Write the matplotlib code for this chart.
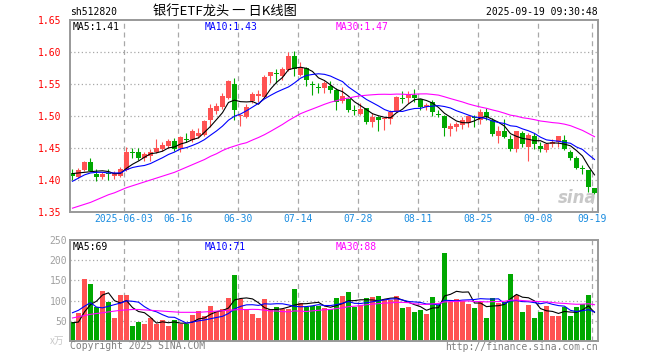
import numpy as np
import pandas as pd
import matplotlib
matplotlib.use('Agg')
import matplotlib.pyplot as plt
from matplotlib.patches import Rectangle

plt.rcParams['font.family'] = ['DejaVu Sans Mono', 'Noto Sans CJK SC']

symbol = "sh512820"
title = "银行ETF龙头 一 日K线图"
timestamp = "2025-09-19 09:30:48"

opens = [1.411, 1.405, 1.416, 1.428, 1.410, 1.404, 1.411, 1.406, 1.407, 1.416,
         1.443, 1.443, 1.435, 1.438, 1.444, 1.448, 1.453, 1.461, 1.450, 1.464,
         1.462, 1.468, 1.470, 1.494, 1.508, 1.514, 1.528, 1.550, 1.500, 1.499,
         1.523, 1.532, 1.529, 1.562, 1.567, 1.562, 1.572, 1.593, 1.564, 1.575,
         1.550, 1.545, 1.544, 1.547, 1.540, 1.523, 1.527, 1.509, 1.503, 1.512,
         1.490, 1.499, 1.495, 1.495, 1.507, 1.528, 1.528, 1.533, 1.526, 1.514,
         1.522, 1.502, 1.500, 1.479, 1.483, 1.486, 1.489, 1.499, 1.494, 1.507,
         1.494, 1.469, 1.476, 1.464, 1.448, 1.473, 1.452, 1.469, 1.453, 1.447,
         1.456, 1.460, 1.463, 1.443, 1.435, 1.418, 1.415, 1.388]
highs = [1.417, 1.419, 1.430, 1.435, 1.417, 1.413, 1.417, 1.414, 1.421, 1.451,
         1.450, 1.450, 1.444, 1.449, 1.464, 1.459, 1.464, 1.465, 1.468, 1.473,
         1.479, 1.481, 1.494, 1.518, 1.520, 1.536, 1.557, 1.560, 1.503, 1.519,
         1.537, 1.540, 1.564, 1.569, 1.573, 1.577, 1.600, 1.602, 1.584, 1.576,
         1.555, 1.551, 1.555, 1.554, 1.543, 1.545, 1.528, 1.517, 1.521, 1.513,
         1.504, 1.500, 1.499, 1.510, 1.531, 1.539, 1.539, 1.542, 1.527, 1.521,
         1.525, 1.510, 1.501, 1.489, 1.490, 1.499, 1.502, 1.502, 1.511, 1.512,
         1.497, 1.485, 1.495, 1.470, 1.477, 1.476, 1.473, 1.473, 1.460, 1.458,
         1.464, 1.469, 1.470, 1.447, 1.438, 1.423, 1.415, 1.388]
lows = [1.400, 1.403, 1.414, 1.414, 1.399, 1.402, 1.400, 1.401, 1.405, 1.414,
        1.434, 1.431, 1.429, 1.429, 1.442, 1.445, 1.450, 1.446, 1.443, 1.460,
        1.460, 1.466, 1.469, 1.483, 1.503, 1.511, 1.526, 1.494, 1.485, 1.497,
        1.520, 1.522, 1.528, 1.551, 1.551, 1.556, 1.571, 1.562, 1.562, 1.547,
        1.533, 1.536, 1.536, 1.536, 1.510, 1.520, 1.507, 1.502, 1.502, 1.488,
        1.483, 1.476, 1.478, 1.488, 1.506, 1.520, 1.520, 1.522, 1.509, 1.509,
        1.500, 1.498, 1.469, 1.469, 1.477, 1.479, 1.483, 1.483, 1.488, 1.494,
        1.469, 1.458, 1.465, 1.445, 1.444, 1.451, 1.430, 1.448, 1.444, 1.444,
        1.452, 1.452, 1.447, 1.431, 1.417, 1.409, 1.382, 1.378]
closes = [1.407, 1.416, 1.428, 1.414, 1.404, 1.410, 1.410, 1.411, 1.417, 1.443,
          1.442, 1.435, 1.441, 1.444, 1.450, 1.455, 1.461, 1.448, 1.467, 1.463,
          1.477, 1.474, 1.492, 1.513, 1.516, 1.531, 1.554, 1.510, 1.501, 1.514,
          1.534, 1.533, 1.561, 1.568, 1.566, 1.573, 1.594, 1.573, 1.575, 1.557,
          1.549, 1.544, 1.552, 1.541, 1.522, 1.531, 1.509, 1.508, 1.511, 1.491,
          1.499, 1.493, 1.496, 1.507, 1.530, 1.527, 1.535, 1.528, 1.514, 1.517,
          1.507, 1.501, 1.482, 1.484, 1.487, 1.494, 1.500, 1.497, 1.507, 1.498,
          1.472, 1.477, 1.467, 1.448, 1.477, 1.456, 1.470, 1.456, 1.448, 1.456,
          1.460, 1.468, 1.448, 1.435, 1.419, 1.417, 1.389, 1.380]
volumes = [47, 69, 153, 141, 83, 123, 96, 56, 113, 113,
           36, 47, 41, 56, 42, 51, 36, 51, 41, 41,
           65, 75, 63, 86, 73, 80, 106, 163, 104, 80,
           68, 58, 103, 78, 83, 78, 78, 128, 93, 85,
           87, 86, 82, 78, 106, 111, 121, 84, 88, 106,
           109, 111, 103, 101, 111, 81, 84, 73, 76, 66,
           109, 88, 218, 97, 103, 98, 91, 81, 97, 58,
           106, 95, 97, 166, 113, 71, 88, 58, 71, 86,
           63, 63, 83, 63, 83, 92, 113, 3]

ma5_head = [1.410, 1.411, 1.412, 1.413]
ma10_head = [1.398, 1.403, 1.408, 1.411, 1.412, 1.412, 1.411, 1.411, 1.411]
ma30_head = [1.356, 1.359, 1.362, 1.365, 1.369, 1.373, 1.377, 1.380, 1.384, 1.388,
             1.391, 1.394, 1.397, 1.400, 1.403, 1.406, 1.409, 1.412, 1.416, 1.420,
             1.424, 1.428, 1.432, 1.437, 1.441, 1.446, 1.450, 1.453, 1.456]
vma5_head = [45, 47, 72, 90]
vma10_head = [70, 76, 86, 95, 84, 82, 86, 90, 94]
vma30_head = [57, 60, 63, 66, 68, 70, 72, 74, 76, 77,
              78, 78, 77, 76, 75, 74, 73, 72, 71, 71,
              71, 71, 72, 73, 74, 75, 76, 77, 78]

date_labels = ["2025-06-03", "06-16", "06-30", "07-14", "07-28", "08-11", "08-25", "09-08", "09-19"]
date_index = [9, 18, 28, 38, 48, 58, 68, 78, 87]
price_ticks = [1.35, 1.40, 1.45, 1.50, 1.55, 1.60, 1.65]
vol_ticks = [0, 50, 100, 150, 200, 250]
ma_labels = ["MA5:1.41", "MA10:1.43", "MA30:1.47"]
vma_labels = ["MA5:69", "MA10:71", "MA30:88"]


def moving_average(values, n, head):
    s = pd.Series(values, dtype=float).rolling(n).mean().to_numpy()
    s[:len(head)] = head
    return s


RED = '#FF5252'
GREEN = '#00A800'
GRID = '#A8A8A8'
FRAME = '#999999'
MA_COLORS = ['#000000', '#0000FF', '#FF00FF']

W, H = 660, 360
fig = plt.figure(figsize=(6.6, 3.6), dpi=100)
fig.patch.set_facecolor('white')

def px_rect(x0, y0, x1, y1):
    return [x0 / W, 1 - y1 / H, (x1 - x0) / W, (y1 - y0) / H]

axp = fig.add_axes(px_rect(70, 20, 598, 212))
axv = fig.add_axes(px_rect(70, 240, 598, 341))

n = len(closes)
idx = np.arange(n)
bw = 0.83
cx = idx + bw / 2

o = np.array(opens); c = np.array(closes); h = np.array(highs); l = np.array(lows)
up = c >= o
colors = [RED if u else GREEN for u in up]

for ax in (axp, axv):
    ax.set_xlim(0, n)
    for s in ax.spines.values():
        s.set_color(FRAME)
        s.set_linewidth(1.4)
    ax.tick_params(length=0)
    for d in date_index:
        ax.axvline(d, color=GRID, lw=0.9, ls=(0, (4, 3)), zorder=0)

# price panel
axp.set_ylim(1.35, 1.65)
for t in price_ticks[1:-1]:
    axp.axhline(t, color=GRID, lw=0.9, ls=(0, (1, 2)), zorder=0)
axp.vlines(cx, l, h, colors=colors, lw=0.8, zorder=2)
min_h = 0.0016
for i in range(n):
    bottom = min(o[i], c[i])
    height = max(abs(c[i] - o[i]), min_h)
    axp.add_patch(Rectangle((idx[i], bottom), bw, height, facecolor=colors[i],
                            edgecolor='none', zorder=2))
for vals, hd, per, col in [(closes, ma5_head, 5, MA_COLORS[0]),
                           (closes, ma10_head, 10, MA_COLORS[1]),
                           (closes, ma30_head, 30, MA_COLORS[2])]:
    axp.plot(cx, moving_average(vals, per, hd), color=col, lw=0.8, zorder=3)

axp.set_yticks(price_ticks)
axp.set_yticklabels([f"{t:.2f}" for t in price_ticks], color='#FF0000', fontsize=7)
axp.tick_params(axis='y', pad=6)
axp.set_xticks(date_index)
axp.set_xticklabels(date_labels, color='#1A8CE0', fontsize=7)
axp.tick_params(axis='x', pad=1.5)

# volume panel
axv.set_ylim(0, 250)
for t in vol_ticks[1:-1]:
    axv.axhline(t, color=GRID, lw=0.9, ls=(0, (1, 2)), zorder=0)
axv.bar(idx, volumes, width=bw, align='edge', color=colors, zorder=2)
for vals, hd, per, col in [(volumes, vma5_head, 5, MA_COLORS[0]),
                           (volumes, vma10_head, 10, MA_COLORS[1]),
                           (volumes, vma30_head, 30, MA_COLORS[2])]:
    axv.plot(cx, moving_average(vals, per, hd), color=col, lw=0.8, zorder=3)
axv.set_yticks(vol_ticks[1:])
axv.set_yticklabels([str(t) for t in vol_ticks[1:]], color='#A0A0A0', fontsize=7)
axv.tick_params(axis='y', pad=2)
axv.set_xticks([])

def ftext(x, y, s, **kw):
    fig.text(x / W, 1 - y / H, s, **kw)

ftext(70, 12, symbol, fontsize=7, ha='left', va='center', color='#000000')
ftext(225, 12, title, fontsize=9.5, ha='center', va='center', color='#000000',
      family=['Noto Sans CJK SC', 'DejaVu Sans'])
ftext(598, 12, timestamp, fontsize=7, ha='right', va='center', color='#000000')

ma_x = [73, 205, 336]
for x, s, col in zip(ma_x, ma_labels, MA_COLORS):
    ftext(x, 27, s, fontsize=7, ha='left', va='center', color=col)
for x, s, col in zip(ma_x, vma_labels, MA_COLORS):
    ftext(x, 247, s, fontsize=7, ha='left', va='center', color=col)

ftext(50, 341, "x万", fontsize=7, ha='left', va='center', color='#C8C8C8',
      family=['Noto Sans CJK SC', 'DejaVu Sans'])
ftext(70, 346, "Copyright 2025 SINA.COM", fontsize=7, ha='left', va='center', color='#808080')
ftext(598, 347, "http://finance.sina.com.cn", fontsize=7, ha='right', va='center', color='#808080')
ftext(597, 198, "sina", fontsize=12, ha='right', va='center', color='#C8C8C8',
      fontweight='bold', style='italic', family='DejaVu Sans')

fig.savefig('out.png', dpi=100, facecolor='white')
